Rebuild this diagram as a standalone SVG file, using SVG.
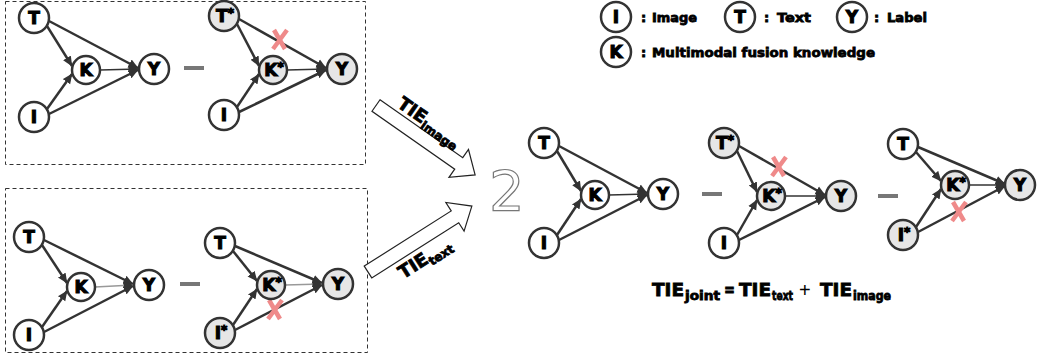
<svg xmlns="http://www.w3.org/2000/svg" width="1037" height="362" viewBox="0 0 1037 362">
<defs>
<marker id="ah" viewBox="0 0 10 10" refX="9.5" refY="5" markerWidth="10" markerHeight="10" markerUnits="userSpaceOnUse" orient="auto">
<path d="M0,0.5 L10,5 L0,9.5 z" fill="#333"/>
</marker>
<style>
.n{fill:#fff;stroke:#333;stroke-width:2.5}
.s{fill:#e6e6e6;stroke:#333;stroke-width:2.5}
.t{font-family:"DejaVu Sans","Liberation Sans",sans-serif;font-weight:bold;fill:#000;stroke:#000;stroke-width:0.8}
.nl{font-size:17px;text-anchor:middle;stroke-width:1.1}
.st{font-size:12px}
.e{stroke:#333;stroke-width:2.5;fill:none;marker-end:url(#ah)}
.ek{stroke:#333;stroke-width:1.5;fill:none;marker-end:url(#ah)}
.eg{stroke:#999;stroke-width:1.5;fill:none;marker-end:url(#ah)}
.x{stroke:#ef8a8a;stroke-width:4.5;fill:none;stroke-linecap:butt}
.minus{fill:#777}
.box{fill:none;stroke:#333;stroke-width:1;stroke-dasharray:4 3}
.blk{fill:#fff;stroke:#222;stroke-width:1.2}
.lg{font-size:13px}
.eq{font-size:18px}
.sub{font-size:12px}
</style>
</defs>
<rect width="1037" height="362" fill="#fff"/>

<g id="boxes">
<rect class="box" x="5.5" y="1.5" width="360" height="163"/>
<rect class="box" x="5.5" y="188.5" width="362" height="164"/>
</g>

<g id="connectors">
<!-- G1 -->
<path class="e" d="M47,26 L72,66"/>
<path class="e" d="M47,109 L72,74"/>
<path class="e" d="M49,21 L138,68"/>
<path class="e" d="M49,114 L138,70"/>
<path class="ek" d="M100,70 L138,69"/>
<!-- G2 -->
<path class="e" d="M237,24 L259,66"/>
<path class="e" d="M237,107 L259,74"/>
<path class="e" d="M239,19 L326,68"/>
<path class="e" d="M239,112 L326,70"/>
<path class="ek" d="M287,70 L326,69"/>
<!-- G3 -->
<path class="e" d="M42,245 L67,283"/>
<path class="e" d="M42,327 L67,291"/>
<path class="e" d="M44,240 L133,284"/>
<path class="e" d="M44,332 L133,286"/>
<path class="eg" d="M95,287 L133,285"/>
<!-- G4 -->
<path class="e" d="M233,251 L257,281"/>
<path class="e" d="M233,325 L257,289"/>
<path class="e" d="M235,246 L322,283"/>
<path class="e" d="M235,330 L322,285"/>
<path class="eg" d="M285,285 L322,284"/>
<!-- G5 -->
<path class="e" d="M557,151 L581,191"/>
<path class="e" d="M557,235 L581,199"/>
<path class="e" d="M559,146 L647,193"/>
<path class="e" d="M559,240 L647,195"/>
<path class="ek" d="M609,195 L647,194"/>
<!-- G6 -->
<path class="e" d="M737,151 L757,192"/>
<path class="e" d="M737,235 L757,200"/>
<path class="e" d="M739,146 L825,195"/>
<path class="e" d="M739,240 L825,197"/>
<path class="ek" d="M785,196 L825,196"/>
<!-- G7 -->
<path class="e" d="M916,152 L941,181"/>
<path class="e" d="M916,227 L941,189"/>
<path class="e" d="M918,147 L1005,184"/>
<path class="e" d="M918,232 L1005,186"/>
<path class="ek" d="M969,185 L1005,185"/>
</g>

<g id="cuts">
<path class="x" d="M274,30 L285,49 M287,30 L273,49"/>
<path class="x" d="M269,300 L280,319 M282,300 L268,319"/>
<path class="x" d="M773,157 L784,176 M786,157 L772,176"/>
<path class="x" d="M953,202 L964,221 M966,202 L952,221"/>
</g>

<!-- G1 nodes -->
<g id="g1-T"><circle class="n" cx="34" cy="18" r="15"/><text class="t nl" x="34" y="24">T</text></g>
<g id="g1-I"><circle class="n" cx="34" cy="117" r="15"/><text class="t nl" x="34" y="123">I</text></g>
<g id="g1-K"><circle class="n" cx="86" cy="70" r="14"/><text class="t nl" x="86" y="76">K</text></g>
<g id="g1-Y"><circle class="n" cx="154" cy="69" r="15"/><text class="t nl" x="154" y="75">Y</text></g>
<!-- G2 nodes -->
<g id="g2-T"><circle class="s" cx="224" cy="16" r="15"/><text class="t nl" x="225" y="22">T<tspan class="st" dy="-5">*</tspan></text></g>
<g id="g2-I"><circle class="n" cx="224" cy="115" r="15"/><text class="t nl" x="224" y="121">I</text></g>
<g id="g2-K"><circle class="s" cx="273" cy="70" r="14"/><text class="t nl" x="274" y="76">K<tspan class="st" dy="-5">*</tspan></text></g>
<g id="g2-Y"><circle class="s" cx="342" cy="69" r="15"/><text class="t nl" x="342" y="75">Y</text></g>
<!-- G3 nodes -->
<g id="g3-T"><circle class="n" cx="29" cy="237" r="15"/><text class="t nl" x="29" y="243">T</text></g>
<g id="g3-I"><circle class="n" cx="29" cy="335" r="15"/><text class="t nl" x="29" y="341">I</text></g>
<g id="g3-K"><circle class="n" cx="81" cy="287" r="14"/><text class="t nl" x="81" y="293">K</text></g>
<g id="g3-Y"><circle class="n" cx="149" cy="285" r="15"/><text class="t nl" x="149" y="291">Y</text></g>
<!-- G4 nodes -->
<g id="g4-T"><circle class="n" cx="220" cy="243" r="15"/><text class="t nl" x="220" y="249">T</text></g>
<g id="g4-I"><circle class="s" cx="220" cy="333" r="15"/><text class="t nl" x="221" y="339">I<tspan class="st" dy="-5">*</tspan></text></g>
<g id="g4-K"><circle class="s" cx="271" cy="285" r="14"/><text class="t nl" x="272" y="291">K<tspan class="st" dy="-5">*</tspan></text></g>
<g id="g4-Y"><circle class="s" cx="338" cy="284" r="15"/><text class="t nl" x="338" y="290">Y</text></g>
<!-- G5 nodes -->
<g id="g5-T"><circle class="n" cx="544" cy="143" r="15"/><text class="t nl" x="544" y="149">T</text></g>
<g id="g5-I"><circle class="n" cx="544" cy="243" r="15"/><text class="t nl" x="544" y="249">I</text></g>
<g id="g5-K"><circle class="n" cx="595" cy="195" r="14"/><text class="t nl" x="595" y="201">K</text></g>
<g id="g5-Y"><circle class="n" cx="663" cy="194" r="15"/><text class="t nl" x="663" y="200">Y</text></g>
<!-- G6 nodes -->
<g id="g6-T"><circle class="s" cx="724" cy="143" r="15"/><text class="t nl" x="725" y="149">T<tspan class="st" dy="-5">*</tspan></text></g>
<g id="g6-I"><circle class="n" cx="724" cy="243" r="15"/><text class="t nl" x="724" y="249">I</text></g>
<g id="g6-K"><circle class="s" cx="771" cy="196" r="14"/><text class="t nl" x="772" y="202">K<tspan class="st" dy="-5">*</tspan></text></g>
<g id="g6-Y"><circle class="s" cx="841" cy="196" r="15"/><text class="t nl" x="841" y="202">Y</text></g>
<!-- G7 nodes -->
<g id="g7-T"><circle class="n" cx="903" cy="144" r="15"/><text class="t nl" x="903" y="150">T</text></g>
<g id="g7-I"><circle class="s" cx="903" cy="235" r="15"/><text class="t nl" x="904" y="241">I<tspan class="st" dy="-5">*</tspan></text></g>
<g id="g7-K"><circle class="s" cx="955" cy="185" r="14"/><text class="t nl" x="956" y="191">K<tspan class="st" dy="-5">*</tspan></text></g>
<g id="g7-Y"><circle class="s" cx="1020" cy="185" r="15"/><text class="t nl" x="1020" y="191">Y</text></g>

<g id="minus-signs">
<rect class="minus" x="184" y="66" width="20" height="4"/>
<rect class="minus" x="180" y="282" width="20" height="4"/>
<rect class="minus" x="702" y="192" width="20" height="4"/>
<rect class="minus" x="878" y="194" width="20" height="4"/>
</g>

<g id="arrow-image" transform="translate(376,105.5) rotate(35)">
<polygon class="blk" points="0,-7 101,-7 101,-17 121,0 101,17 101,7 0,7"/>
<text class="t" x="17" y="-11" font-size="18">TIE<tspan class="sub" dy="4">image</tspan></text>
</g>
<g id="arrow-text" transform="translate(368,272) rotate(-32.4)">
<polygon class="blk" points="0,-7 103,-7 103,-17 123,0 103,17 103,7 0,7"/>
<text class="t" x="26" y="25" font-size="18">TIE<tspan class="sub" dy="4">text</tspan></text>
</g>

<text id="two" x="489" y="210" font-family="DejaVu Sans, sans-serif" font-size="56" fill="#fff" stroke="#777" stroke-width="1.2">2</text>

<g id="legend">
<g id="lg-I"><circle class="n" cx="616" cy="17" r="15"/><text class="t nl" x="616" y="23">I</text><text class="t lg" x="641" y="22">:</text><text class="t lg" x="652" y="22" textLength="45" lengthAdjust="spacingAndGlyphs">Image</text></g>
<g id="lg-T"><circle class="n" cx="740" cy="17" r="15"/><text class="t nl" x="740" y="23">T</text><text class="t lg" x="764" y="22">:</text><text class="t lg" x="777" y="22" textLength="34" lengthAdjust="spacingAndGlyphs">Text</text></g>
<g id="lg-Y"><circle class="n" cx="852" cy="17" r="15"/><text class="t nl" x="852" y="23">Y</text><text class="t lg" x="874" y="22">:</text><text class="t lg" x="887" y="22" textLength="40" lengthAdjust="spacingAndGlyphs">Label</text></g>
<g id="lg-K"><circle class="n" cx="616" cy="52" r="15"/><text class="t nl" x="616" y="58">K</text><text class="t lg" x="641" y="57">:</text><text class="t lg" x="652" y="57" textLength="223" lengthAdjust="spacingAndGlyphs">Multimodal fusion knowledge</text></g>
</g>

<g id="equation">
<text class="t eq" x="652" y="296" textLength="32" lengthAdjust="spacingAndGlyphs">TIE</text>
<text class="t sub" x="685" y="300" textLength="35" lengthAdjust="spacingAndGlyphs">joint</text>
<text class="t eq" x="724" y="296" textLength="11" lengthAdjust="spacingAndGlyphs">=</text>
<text class="t eq" x="739" y="296" textLength="32" lengthAdjust="spacingAndGlyphs">TIE</text>
<text class="t sub" x="772" y="300" textLength="21" lengthAdjust="spacingAndGlyphs">text</text>
<text x="799" y="297" font-family="Liberation Sans, sans-serif" font-size="20" fill="#000">+</text>
<text class="t eq" x="820" y="296" textLength="32" lengthAdjust="spacingAndGlyphs">TIE</text>
<text class="t sub" x="853" y="300" textLength="38" lengthAdjust="spacingAndGlyphs">image</text>
</g>
</svg>
